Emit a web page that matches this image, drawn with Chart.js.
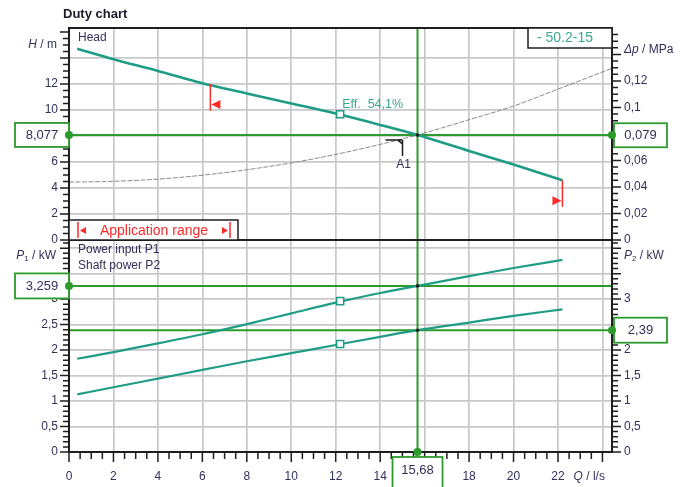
<!DOCTYPE html>
<html>
<head>
<meta charset="utf-8">
<script src="https://cdn.jsdelivr.net/npm/chart.js@4.4.1/dist/chart.umd.min.js"></script>
<style>
html,body{margin:0;padding:0;background:#fff;overflow:hidden;}
#wrap{position:relative;width:680px;height:487px;}
</style>
</head>
<body>
<div id="wrap"><canvas id="chart" width="680" height="487"></canvas></div>
<script>
// ---------- data ----------
const flowQ   = [0.37, 2, 4, 6, 8, 10, 12, 14, 15.68, 18, 20, 22.2];
const headH   = [14.7, 13.9, 13.0, 12.05, 11.27, 10.5, 9.72, 8.85, 8.077, 6.85, 5.8, 4.6];
const powerP1 = [1.83, 1.96, 2.13, 2.31, 2.51, 2.72, 2.93, 3.12, 3.259, 3.45, 3.61, 3.77];
const powerP2 = [1.13, 1.27, 1.44, 1.61, 1.78, 1.94, 2.10, 2.26, 2.39, 2.54, 2.67, 2.80];
const systemQ = [0, 2, 4, 6, 8, 10, 12, 14, 15.68, 18, 20, 22, 24.43];
const systemH = [4.45, 4.51, 4.68, 4.98, 5.4, 5.93, 6.58, 7.35, 8.077, 9.25, 10.3, 11.6, 13.2];
const effQ  = [12.2];
const effH  = [9.67];
const effP1 = [2.96];
const effP2 = [2.12];
const dutyQ = 15.68, dutyH = 8.077, dutyDp = 0.079, dutyP1 = 3.259, dutyP2 = 2.39;
const appRangeQ = [6.36, 22.2];
const appRangeH = [12.0, 4.6];
const xTickLabels  = [0, 2, 4, 6, 8, 10, 12, 14, 16, 18, 20, 22];
const hTickLabels  = [0, 2, 4, 6, 8, 10, 12];
const dpTickLabels = [0, 0.02, 0.04, 0.06, 0.08, 0.1, 0.12];
const pTickLabels  = [0, 0.5, 1, 1.5, 2, 2.5, 3];
const effLabel = 'Eff.  54,1%';
const pumpName = '- 50.2-15';
const titleText = 'Duty chart';
// axis ranges
const Q_MAX = 24.43, H_MAX = 16.3, P_MAX = 4.16, MPA_PER_M = 0.00981;
const DP_MAX = H_MAX * MPA_PER_M;

// ---------- styles ----------
const TEAL = '#1f9c86', GREEN = '#2c9a2c', GRID = '#c8c8c8', NAVY = '#30305a', RED = '#ff2a2a', INK = '#1e1e1e';
const FONT = '"Liberation Sans", Arial, sans-serif';
Chart.defaults.font.family = FONT;
Chart.defaults.font.size = 12;
Chart.defaults.color = NAVY;

const fmt = v => parseFloat(v.toFixed(4)).toString().replace('.', ',');
const has = (list, v) => list.some(l => Math.abs(l - v) < 1e-9);
const pts = (xs, ys) => xs.map((x, i) => ({x, y: ys[i]}));

function fixW(w) { return s => { s.width = w; }; }

const overlay = {
  id: 'overlay',
  afterDraw(chart) {
    const {ctx, chartArea: ca, scales: s} = chart;
    const X = v => s.x.getPixelForValue(v);
    const H = v => s.yH.getPixelForValue(v);
    const P = v => s.yP.getPixelForValue(v);
    const D = v => s.yDp.getPixelForValue(v);
    const P2 = v => s.yP2.getPixelForValue(v);
    ctx.save();

    // tick marks
    ctx.strokeStyle = INK; ctx.lineWidth = 1.5;
    ctx.beginPath();
    for (let i = 0; i * 0.5 <= Q_MAX + 1e-9; i++) {
      const x = X(i * 0.5), L = i % 4 === 0 ? 10 : 7;
      ctx.moveTo(x, ca.bottom); ctx.lineTo(x, ca.bottom + L);
    }
    for (let i = 0; i * 0.5 <= H_MAX + 1e-9; i++) {
      const y = H(i * 0.5), L = i % 4 === 0 ? 9 : 6;
      ctx.moveTo(ca.left, y); ctx.lineTo(ca.left - L, y);
    }
    for (let i = 0; i * 0.1 <= P_MAX + 1e-9; i++) {
      const y = P(i * 0.1), L = i % 5 === 0 ? 9 : 6;
      ctx.moveTo(ca.left, y); ctx.lineTo(ca.left - L, y);
      const y2 = P2(i * 0.1);
      ctx.moveTo(ca.right, y2); ctx.lineTo(ca.right + L, y2);
    }
    for (let i = 0; i * 0.005 <= DP_MAX + 1e-9; i++) {
      const y = D(i * 0.005), L = i % 4 === 0 ? 9 : 6;
      ctx.moveTo(ca.right, y); ctx.lineTo(ca.right + L, y);
    }
    ctx.stroke();

    // frame and separator
    ctx.lineWidth = 2; ctx.strokeStyle = INK;
    ctx.strokeRect(ca.left, ca.top, ca.right - ca.left, ca.bottom - ca.top);
    ctx.beginPath(); ctx.moveTo(ca.left, H(0)); ctx.lineTo(ca.right, H(0)); ctx.stroke();

    // application range box
    const arL = ca.left, arR = ca.left + 169, arT = H(0) - 20, arB = H(0);
    ctx.fillStyle = '#fff'; ctx.fillRect(arL, arT, arR - arL, arB - arT);
    ctx.lineWidth = 1.5; ctx.strokeStyle = INK; ctx.strokeRect(arL, arT, arR - arL, arB - arT);
    ctx.strokeStyle = RED; ctx.fillStyle = RED; ctx.lineWidth = 1.5;
    const bl = arL + 9, br = arR - 8;
    ctx.beginPath(); ctx.moveTo(bl, arT + 2); ctx.lineTo(bl, arB - 2); ctx.moveTo(br, arT + 2); ctx.lineTo(br, arB - 2); ctx.stroke();
    const my = (arT + arB) / 2 + 0.5;
    ctx.beginPath(); ctx.moveTo(bl + 2, my); ctx.lineTo(bl + 8, my - 3.5); ctx.lineTo(bl + 8, my + 3.5); ctx.closePath(); ctx.fill();
    ctx.beginPath(); ctx.moveTo(br - 2, my); ctx.lineTo(br - 8, my - 3.5); ctx.lineTo(br - 8, my + 3.5); ctx.closePath(); ctx.fill();
    ctx.font = '14px ' + FONT; ctx.textAlign = 'center'; ctx.textBaseline = 'middle';
    ctx.fillText('Application range', (bl + br) / 2, my + 0.5);

    // application range limits on the head curve
    appRangeQ.forEach((q, i) => {
      const x = X(q), y1 = H(appRangeH[i]), y2 = H(appRangeH[i] - 2.05);
      ctx.beginPath(); ctx.moveTo(x, y1); ctx.lineTo(x, y2); ctx.stroke();
      const ty = y2 - 6, dir = i === 0 ? 1 : -1;
      ctx.beginPath(); ctx.moveTo(x + dir * 1, ty); ctx.lineTo(x + dir * 10, ty - 4.5); ctx.lineTo(x + dir * 10, ty + 4.5); ctx.closePath(); ctx.fill();
    });

    // intersection dots
    ctx.fillStyle = INK;
    [[X(dutyQ), H(dutyH)], [X(dutyQ), P(dutyP1)], [X(dutyQ), P(dutyP2)]].forEach(([x, y]) => {
      ctx.beginPath(); ctx.arc(x, y, 1.8, 0, Math.PI * 2); ctx.fill();
    });

    // A1 bracket
    const ox = X(dutyQ), oy = H(dutyH);
    ctx.strokeStyle = INK; ctx.lineWidth = 1.5;
    ctx.beginPath();
    ctx.moveTo(ox - 32, oy + 5); ctx.lineTo(ox - 15, oy + 5);
    ctx.moveTo(ox - 20, oy + 5); ctx.lineTo(ox - 15, oy + 9);
    ctx.moveTo(ox - 15, oy + 5); ctx.lineTo(ox - 15, oy + 21);
    ctx.stroke();
    ctx.fillStyle = NAVY; ctx.font = '12px ' + FONT; ctx.textAlign = 'center'; ctx.textBaseline = 'middle';
    ctx.fillText('A1', ox - 14, oy + 30);

    // efficiency label
    ctx.fillStyle = '#3aa892'; ctx.textAlign = 'left'; ctx.font = '12.5px ' + FONT;
    ctx.fillText(effLabel, X(effQ[0]) + 2, H(effH[0]) - 10);

    // legend texts
    ctx.fillStyle = NAVY; ctx.font = '12px ' + FONT;
    ctx.fillText('Head', ca.left + 9, ca.top + 10);
    ctx.fillText('Power input P1', ca.left + 9, H(0) + 10);
    ctx.fillText('Shaft power P2', ca.left + 9, H(0) + 26);

    // pump name box
    const nL = ca.right - 84, nB = ca.top + 20;
    ctx.fillStyle = '#fff'; ctx.fillRect(nL, ca.top, ca.right - nL, nB - ca.top);
    ctx.strokeStyle = INK; ctx.lineWidth = 1.5; ctx.strokeRect(nL, ca.top, ca.right - nL, nB - ca.top);
    ctx.fillStyle = '#3aa892'; ctx.font = '14px ' + FONT; ctx.textAlign = 'center';
    ctx.fillText(pumpName, (nL + ca.right) / 2 - 5, ca.top + 10.5);

    // title
    ctx.fillStyle = '#1a1a2a'; ctx.font = 'bold 13px ' + FONT; ctx.textAlign = 'left';
    ctx.fillText(titleText, ca.left - 6, 14);

    // axis titles
    function parts(list, x, y, align) {
      let w = 0;
      list.forEach(p => { ctx.font = p[1]; w += ctx.measureText(p[0]).width; });
      let cx = align === 'right' ? x - w : x;
      ctx.textAlign = 'left';
      list.forEach(p => { ctx.font = p[1]; ctx.fillText(p[0], cx, y + (p[2] || 0)); cx += ctx.measureText(p[0]).width; });
    }
    ctx.fillStyle = NAVY;
    const it = 'italic 12px ' + FONT, rg = '12px ' + FONT, sm = '8px ' + FONT;
    parts([['H', it], [' / m', rg]], 57, H(15), 'right');
    parts([['P', it], ['1', sm, 3], [' / kW', rg]], 56, P(3.85), 'right');
    parts([['\u0394p', it], [' / MPa', rg]], ca.right + 12, D(0.1435), 'left');
    parts([['P', it], ['2', sm, 3], [' / kW', rg]], ca.right + 12, P2(3.85), 'left');
    parts([['Q', it], [' / l/s', rg]], X(22.7), ca.bottom + 25, 'left');

    // duty value boxes
    function vbox(text, x1, x2, yc, h) {
      ctx.fillStyle = '#fff'; ctx.fillRect(x1, yc - h / 2, x2 - x1, h);
      ctx.strokeStyle = GREEN; ctx.lineWidth = 1.8; ctx.strokeRect(x1, yc - h / 2, x2 - x1, h);
      ctx.fillStyle = NAVY; ctx.font = '13px ' + FONT; ctx.textAlign = 'center'; ctx.textBaseline = 'middle';
      ctx.fillText(text, (x1 + x2) / 2, yc + 0.5);
    }
    vbox(fmt(dutyH), 15, ca.left, H(dutyH), 24);
    vbox(fmt(dutyP1), 15, ca.left, P(dutyP1), 25);
    vbox(fmt(dutyDp), ca.right + 2, ca.right + 55, D(dutyDp), 24);
    vbox(fmt(dutyP2), ca.right + 2, ca.right + 55, P2(dutyP2), 25);
    const qx = X(dutyQ);
    ctx.fillStyle = '#fff'; ctx.fillRect(qx - 25, ca.bottom + 5, 50, 40);
    ctx.strokeStyle = GREEN; ctx.lineWidth = 1.8; ctx.strokeRect(qx - 25, ca.bottom + 5, 50, 40);
    ctx.fillStyle = NAVY; ctx.font = '13px ' + FONT; ctx.textAlign = 'center';
    ctx.fillText(fmt(dutyQ), qx, ca.bottom + 18);

    // green end dots
    ctx.fillStyle = GREEN;
    [[ca.left, H(dutyH)], [ca.right, H(dutyH)], [ca.left, P(dutyP1)], [ca.right, P2(dutyP2)], [qx, ca.bottom]].forEach(([x, y]) => {
      ctx.beginPath(); ctx.arc(x, y, 4, 0, Math.PI * 2); ctx.fill();
    });
    ctx.restore();
  }
};

const lineBase = {pointRadius: 0, fill: false, cubicInterpolationMode: 'monotone'};
const markerBase = {showLine: false, pointStyle: 'rect', pointRadius: 5, pointBackgroundColor: '#fff', pointBorderColor: TEAL, pointBorderWidth: 1.5};

new Chart(document.getElementById('chart'), {
  type: 'scatter',
  data: {
    datasets: [
      Object.assign({data: pts(effQ, effH), yAxisID: 'yH'}, markerBase),
      Object.assign({data: pts(effQ, effP1), yAxisID: 'yP'}, markerBase),
      Object.assign({data: pts(effQ, effP2), yAxisID: 'yP'}, markerBase),
      Object.assign({data: pts(flowQ, headH), yAxisID: 'yH', showLine: true, borderColor: TEAL, borderWidth: 2.6}, lineBase),
      Object.assign({data: pts(flowQ, powerP1), yAxisID: 'yP', showLine: true, borderColor: TEAL, borderWidth: 2.2}, lineBase),
      Object.assign({data: pts(flowQ, powerP2), yAxisID: 'yP', showLine: true, borderColor: TEAL, borderWidth: 2.2}, lineBase),
      Object.assign({data: [{x: 0, y: dutyH}, {x: Q_MAX, y: dutyH}], yAxisID: 'yH', showLine: true, borderColor: GREEN, borderWidth: 2}, lineBase),
      Object.assign({data: [{x: 0, y: dutyP1}, {x: Q_MAX, y: dutyP1}], yAxisID: 'yP', showLine: true, borderColor: GREEN, borderWidth: 2}, lineBase),
      Object.assign({data: [{x: 0, y: dutyP2}, {x: Q_MAX, y: dutyP2}], yAxisID: 'yP', showLine: true, borderColor: GREEN, borderWidth: 2}, lineBase),
      Object.assign({data: [{x: dutyQ, y: 0}, {x: dutyQ, y: H_MAX}], yAxisID: 'yH', showLine: true, borderColor: GREEN, borderWidth: 2}, lineBase),
      Object.assign({data: [{x: dutyQ, y: 0}, {x: dutyQ, y: P_MAX}], yAxisID: 'yP', showLine: true, borderColor: GREEN, borderWidth: 2}, lineBase),
      Object.assign({data: pts(systemQ, systemH), yAxisID: 'yH', showLine: true, borderColor: '#8a8a8a', borderWidth: 1, borderDash: [5, 1.5]}, lineBase)
    ]
  },
  options: {
    responsive: false,
    animation: false,
    events: [],
    layout: {padding: {top: 28, left: 0, right: 0, bottom: 0}},
    plugins: {legend: {display: false}, tooltip: {enabled: false}},
    scales: {
      x: {
        type: 'linear', position: 'bottom', min: 0, max: Q_MAX,
        afterFit: s => { s.height = 35; },
        border: {display: false},
        grid: {drawTicks: false, lineWidth: 1.7, color: c => c.tick && c.tick.value === 0 ? 'rgba(0,0,0,0)' : GRID},
        ticks: {stepSize: 2, includeBounds: false, autoSkip: false, maxRotation: 0, padding: 17,
                callback: v => has(xTickLabels, v) ? fmt(v) : ''}
      },
      yP: {
        type: 'linear', position: 'left', stack: 'left', stackWeight: 1, min: 0, max: P_MAX,
        afterFit: fixW(69),
        border: {display: false},
        grid: {drawTicks: false, lineWidth: 1.7, color: c => c.tick && c.tick.value === 0 ? 'rgba(0,0,0,0)' : GRID},
        ticks: {stepSize: 0.5, includeBounds: false, autoSkip: false, padding: 11,
                callback: v => has(pTickLabels, v) ? fmt(v) : ''}
      },
      yH: {
        type: 'linear', position: 'left', stack: 'left', stackWeight: 1, min: 0, max: H_MAX,
        afterFit: fixW(69),
        border: {display: false},
        grid: {drawTicks: false, lineWidth: 1.7, color: c => c.tick && (c.tick.value === 0 || c.tick.value > 15) ? 'rgba(0,0,0,0)' : GRID},
        ticks: {stepSize: 2, includeBounds: false, autoSkip: false, padding: 11,
                callback: v => has(hTickLabels, v) ? fmt(v) : ''}
      },
      yDp: {
        type: 'linear', position: 'right', stack: 'right', stackWeight: 1, min: 0, max: DP_MAX,
        afterFit: fixW(68),
        border: {display: false},
        grid: {display: false, drawTicks: false},
        ticks: {stepSize: 0.02, includeBounds: false, autoSkip: false, padding: 12,
                callback: v => has(dpTickLabels, v) ? fmt(v) : ''}
      },
      yP2: {
        type: 'linear', position: 'right', stack: 'right', stackWeight: 1, min: 0, max: P_MAX,
        afterFit: fixW(68),
        border: {display: false},
        grid: {display: false, drawTicks: false},
        ticks: {stepSize: 0.5, includeBounds: false, autoSkip: false, padding: 12,
                callback: v => has(pTickLabels, v) ? fmt(v) : ''}
      }
    }
  },
  plugins: [overlay]
});
</script>
</body>
</html>
